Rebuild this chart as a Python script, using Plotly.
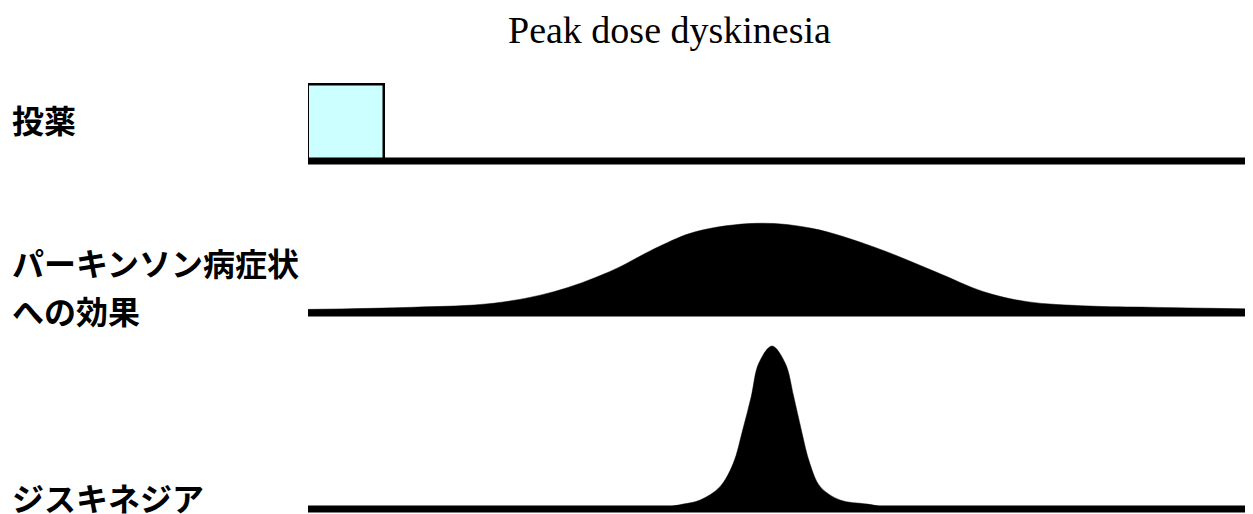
import plotly.graph_objects as go

# ---- data (time axis in arbitrary units 0..100) ----
time_start = 0
time_end = 100

# dosing
dose_start = 0
dose_end = 8
dose_level = 1.0

# effect on Parkinson symptoms (broad curve)
effect_t = [0, 11.1, 19.6, 26.0, 31.9, 37.1, 41.0, 47.5, 53.3, 59.8, 66.4, 71.5, 76.1, 82.6, 89.1, 100]
effect_v = [0.04, 0.064, 0.108, 0.237, 0.46, 0.739, 0.906, 1.0, 0.944, 0.739, 0.46, 0.237, 0.126, 0.078, 0.064, 0.045]

# dyskinesia (narrow peak)
dysk_t = [0, 36.2, 39.7, 41.5, 43.6, 45.0, 46.0, 46.9, 47.7, 49.1, 50.5, 51.4, 52.2, 53.1, 54.2, 56.3, 59.2, 62.7, 100]
dysk_v = [0, 0, 0.03, 0.055, 0.137, 0.28, 0.485, 0.689, 0.894, 1.0, 0.894, 0.689, 0.485, 0.28, 0.137, 0.055, 0.03, 0, 0]

title_text = "Peak dose dyskinesia"
row_labels = ["投薬", "パーキンソン病症状", "への効果", "ジスキネジア"]

# ---- layout helpers (window is 1253x514; page body has an 8px margin) ----
OFF = 8
W, H = 1253 - OFF, 514 - OFF

def px_x(px):
    return (px - OFF) / W

def px_y(py):
    return 1 - (py - OFF) / H

def dom(base_px, unit_px, lo, hi):
    return [px_y(base_px - lo * unit_px), px_y(base_px - hi * unit_px)]

rows = {
    "y":  dict(base=161, unit=76, lo=-0.1, hi=1.15),
    "y2": dict(base=313, unit=89.7, lo=-0.07, hi=1.1),
    "y3": dict(base=509, unit=163, lo=-0.027, hi=1.1),
}

fig = go.Figure()

# dosing box
fig.add_trace(go.Bar(
    x=[(dose_start + dose_end) / 2], y=[dose_level], width=[dose_end - dose_start], base=0,
    marker=dict(color="#CCFFFF", line=dict(color="black", width=2.5)),
    xaxis="x", yaxis="y", showlegend=False, hoverinfo="skip"))

# effect curve
fig.add_trace(go.Scatter(
    x=effect_t, y=effect_v, mode="lines", fill="tozeroy", fillcolor="black",
    line=dict(color="black", width=0.5, shape="spline", smoothing=1),
    xaxis="x", yaxis="y2", showlegend=False, hoverinfo="skip"))

# dyskinesia curve
fig.add_trace(go.Scatter(
    x=dysk_t, y=dysk_v, mode="lines", fill="tozeroy", fillcolor="black",
    line=dict(color="black", width=0.5, shape="spline", smoothing=1),
    xaxis="x", yaxis="y3", showlegend=False, hoverinfo="skip"))

# baselines
for ya in ["y", "y2", "y3"]:
    fig.add_trace(go.Scatter(
        x=[time_start, time_end], y=[0, 0], mode="lines",
        line=dict(color="black", width=7),
        xaxis="x", yaxis=ya, showlegend=False, hoverinfo="skip"))

axis_off = dict(visible=False, showgrid=False, zeroline=False, fixedrange=True)
layout = dict(
    width=W, height=H, margin=dict(l=0, r=0, t=0, b=0),
    paper_bgcolor="white", plot_bgcolor="white",
    xaxis=dict(domain=[px_x(308), 1], range=[time_start, time_end], anchor="y3", **axis_off),
    bargap=0,
)
for ya, r in rows.items():
    key = "yaxis" if ya == "y" else "yaxis" + ya[1:]
    layout[key] = dict(domain=dom(r["base"], r["unit"], r["lo"], r["hi"]),
                       range=[r["lo"], r["hi"]], anchor="x", **axis_off)
fig.update_layout(**layout)

# title
fig.add_annotation(text=title_text, xref="paper", yref="paper", x=px_x(669), y=px_y(30),
                   xanchor="center", yanchor="middle", showarrow=False,
                   font=dict(family="Liberation Serif", size=38, color="black"))

# row labels
label_y = [119, 262, 310, 497]
for txt, py in zip(row_labels, label_y):
    fig.add_annotation(text=txt, xref="paper", yref="paper", x=px_x(10), y=px_y(py),
                       xanchor="left", yanchor="middle", showarrow=False,
                       font=dict(family="Noto Sans CJK JP", size=32, color="black", weight="bold"))

fig.write_html("out.html")
